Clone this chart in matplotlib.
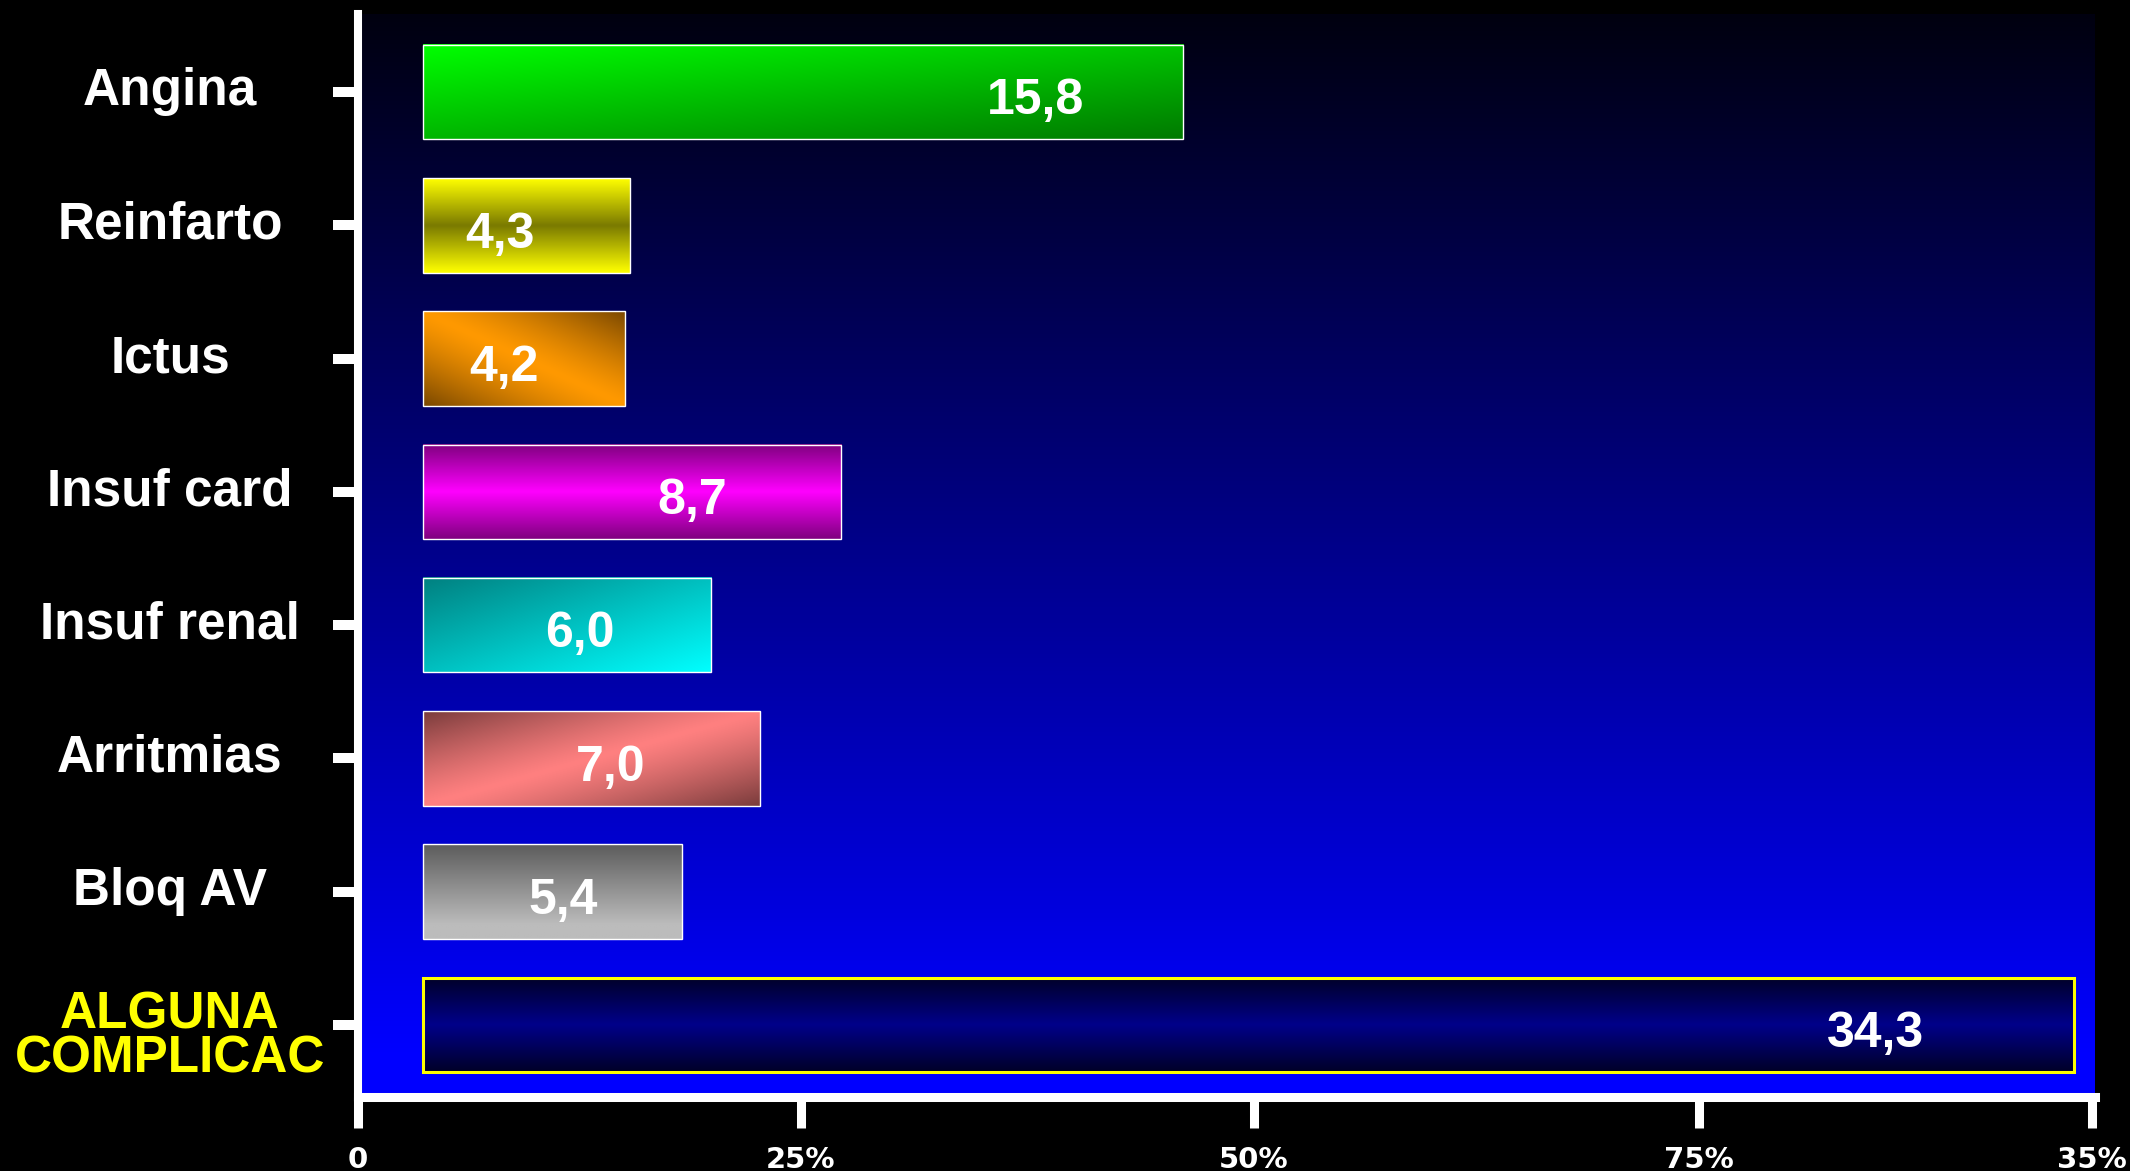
import numpy as np
import matplotlib
matplotlib.use("Agg")
import matplotlib.pyplot as plt
import matplotlib.transforms as mtransforms
from matplotlib.colors import to_rgb

# ---------------------------------------------------------------- data
categories = ["Angina", "Reinfarto", "Ictus", "Insuf card", "Insuf renal",
              "Arritmias", "Bloq AV", "ALGUNA\nCOMPLICAC"]
values = [15.8, 4.3, 4.2, 8.7, 6.0, 7.0, 5.4, 34.3]
value_text = ["15,8", "4,3", "4,2", "8,7", "6,0", "7,0", "5,4", "34,3"]
xtick_text = ["0", "25%", "50%", "75%", "35%"]

# ---------------------------------------------------------------- layout / style
xtick_pos = [-1.34, 7.86, 17.27, 26.51, 34.67]
label_x = [12.74, 1.61, 1.70, 5.60, 3.27, 3.91, 2.92, 30.17]
cat_dy = [0.0] * 7 + [0.09]
label_col = ["white"] * 7 + ["#ffff00"]
edge_col = ["white"] * 7 + ["#ffff00"]
edge_lw = [1.0] * 7 + [2.2]
# (kind, colour a, colour b) for the gradient fill of each bar
fills = [
    ("diag",  "#00ff00", "#007a00"),
    ("band",  "#7a7a00", "#ffff00"),
    ("cross", "#ff9900", "#7a4800"),
    ("band",  "#ff00ff", "#800080"),
    ("diag2", "#008080", "#00ffff"),
    ("anti",  "#ff8080", "#7a3c3c"),
    ("vert",  "#5c5c5c", "#bcbcbc"),
    ("band",  "#00008a", "#000028"),
]


def gradient(kind, ca, cb, nx=300, ny=80):
    xn, yn = np.meshgrid(np.linspace(0, 1, nx), np.linspace(0, 1, ny))
    if kind == "vert":
        t = np.clip(yn / 0.85, 0, 1)
    elif kind == "band":
        t = np.abs(2 * yn - 1)
    elif kind == "diag":
        t = 0.45 * xn + 0.55 * yn
    elif kind == "diag2":
        t = (xn + yn) / 2
    elif kind == "cross":
        t = np.abs(xn - yn) ** 1.3
    else:  # anti
        t = np.abs(xn + yn - 1) ** 1.2
    a, b = np.array(to_rgb(ca)), np.array(to_rgb(cb))
    return a + (b - a) * t[..., None]


fig = plt.figure(figsize=(21.3, 11.71), dpi=100, facecolor="black")
W, H = 2130, 1171
rect = [358 / W, 1 - 1097 / H, (2095 - 358) / W, (1097 - 14) / H]

# background gradient panel (dark navy at top -> bright blue at bottom)
bg = fig.add_axes(rect, zorder=0)
yy = np.linspace(0, 1, 400)[:, None]
blue = np.clip(0.06 + 0.98 * yy, 0, 1)
bg_img = np.dstack([np.zeros_like(blue), np.zeros_like(blue), blue])
bg.imshow(bg_img, aspect="auto", extent=(0, 1, 0, 1), origin="upper")
bg.axis("off")

ax = fig.add_axes(rect, zorder=1)
ax.set_facecolor("none")

y = np.arange(len(categories))
bars = ax.barh(y, values, height=0.71, facecolor="none",
               edgecolor=edge_col, linewidth=edge_lw, zorder=3)

for bar, (kind, ca, cb) in zip(bars, fills):
    x0, y0 = bar.get_x(), bar.get_y()
    w, h = bar.get_width(), bar.get_height()
    ax.imshow(gradient(kind, ca, cb), extent=(x0, x0 + w, y0 + h, y0),
              origin="upper", aspect="auto", interpolation="bilinear", zorder=2)

for i, (lx, txt) in enumerate(zip(label_x, value_text)):
    ax.text(lx, y[i] + 0.07, txt, ha="center", va="center", color="white",
            fontsize=36, fontweight="bold", family="Liberation Sans", zorder=4)

ax.set_xlim(-1.34, 34.74)
ax.set_ylim(7.54, -0.585)

# category names, centred in the black margin
trans = mtransforms.blended_transform_factory(fig.transFigure, ax.transData)
ax.set_yticks(y)
ax.set_yticklabels([""] * len(y))
for i, name in enumerate(categories):
    ax.text(170 / W, y[i] + cat_dy[i], name, transform=trans, ha="center",
            va="center", fontsize=37, fontweight="bold", family="Liberation Sans",
            color=label_col[i], linespacing=0.85, clip_on=False)
ax.tick_params(axis="y", length=18, width=7.2, color="white")

ax.set_xticks(xtick_pos)
ax.set_xticklabels(xtick_text, fontsize=21, fontweight="bold",
                   family="DejaVu Sans", color="white")
ax.tick_params(axis="x", length=22, width=6.5, color="white", pad=13)

for side in ["top", "right"]:
    ax.spines[side].set_visible(False)
ax.spines["left"].set_color("white")
ax.spines["left"].set_linewidth(5.8)
ax.spines["bottom"].set_color("white")
ax.spines["bottom"].set_linewidth(6.5)

fig.savefig("out.png", dpi=100, facecolor="black")
